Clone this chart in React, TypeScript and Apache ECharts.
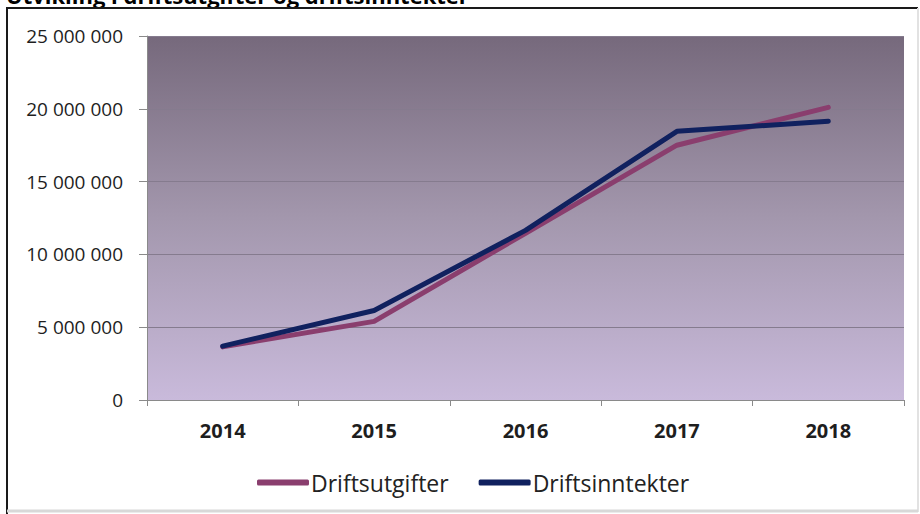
import React, { useEffect, useRef } from "react";
import * as echarts from "echarts";

const titleText = "Utvikling i driftsutgifter og driftsinntekter";
const categories = ["2014", "2015", "2016", "2017", "2018"];
const seriesNames = ["Driftsutgifter", "Driftsinntekter"];
const driftsutgifter = [3650000, 5400000, 11450000, 17500000, 20100000];
const driftsinntekter = [3700000, 6150000, 11650000, 18450000, 19150000];
const yTicks = [0, 5000000, 10000000, 15000000, 20000000, 25000000];

const fmt = (v: number) => String(v).replace(/\B(?=(\d{3})+(?!\d))/g, " ");

export default function App() {
  const ref = useRef<HTMLDivElement>(null);
  useEffect(() => {
    document.body.style.margin = "0";
    const chart = echarts.init(ref.current!, null, { renderer: "svg" });
    chart.setOption({
      animation: false,
      backgroundColor: "#ffffff",
      textStyle: { fontFamily: "Open Sans" },
      graphic: [
        {
          type: "text",
          left: 6,
          top: -16,
          style: {
            text: titleText,
            font: "bold 22px 'Open Sans'",
            fill: "#000000",
          },
        },
        { type: "line", shape: { x1: 7, y1: 8, x2: 7, y2: 514 }, style: { stroke: "#1a1a1a", lineWidth: 2 } },
        { type: "line", shape: { x1: 6, y1: 8, x2: 918, y2: 8 }, style: { stroke: "#1a1a1a", lineWidth: 2 } },
        { type: "line", shape: { x1: 918, y1: 8, x2: 918, y2: 512 }, style: { stroke: "#e2e2e2", lineWidth: 2 } },
        { type: "line", shape: { x1: 7, y1: 511, x2: 918, y2: 511 }, style: { stroke: "#d8d8d8", lineWidth: 3 } },
      ],
      grid: {
        left: 147,
        right: 16,
        top: 36,
        bottom: 114,
        show: true,
        borderWidth: 0,
        backgroundColor: new echarts.graphic.LinearGradient(0, 0, 0, 1, [
          { offset: 0, color: "#76697c" },
          { offset: 0.5, color: "#a397ad" },
          { offset: 1, color: "#c9badb" },
        ]),
      },
      legend: {
        left: 252,
        top: 466,
        itemWidth: 52,
        itemHeight: 6,
        itemGap: 30,
        icon: "roundRect",
        data: seriesNames,
        textStyle: { fontSize: 23, color: "#222222", fontFamily: "Open Sans", padding: [0, 0, 0, -3] },
      },
      xAxis: {
        type: "category",
        data: categories,
        boundaryGap: true,
        axisLine: { lineStyle: { color: "#8a8a8a", width: 1 } },
        axisTick: { show: true, length: 6, lineStyle: { color: "#8a8a8a" } },
        axisLabel: {
          margin: 20,
          fontSize: 20,
          fontWeight: "bold",
          color: "#1e1e1e",
          fontFamily: "Open Sans",
        },
      },
      yAxis: {
        type: "value",
        min: yTicks[0],
        max: yTicks[yTicks.length - 1],
        interval: yTicks[1] - yTicks[0],
        axisLine: { show: true, lineStyle: { color: "#8a8a8a", width: 1 } },
        axisTick: { show: true, length: 8, lineStyle: { color: "#8a8a8a" } },
        splitLine: { show: true, lineStyle: { color: "#857b8e", width: 1 } },
        axisLabel: {
          margin: 24,
          fontSize: 19,
          color: "#1e1e1e",
          fontFamily: "Open Sans",
          formatter: (v: number) => fmt(v),
        },
      },
      series: [
        {
          name: seriesNames[0],
          type: "line",
          data: driftsutgifter,
          showSymbol: false,
          symbol: "none",
          color: "#8a3e6e",
          lineStyle: { width: 5, color: "#8a3e6e", cap: "round", join: "round" },
        },
        {
          name: seriesNames[1],
          type: "line",
          data: driftsinntekter,
          showSymbol: false,
          symbol: "none",
          color: "#10215f",
          lineStyle: { width: 5, color: "#10215f", cap: "round", join: "round" },
        },
      ],
    });
    return () => chart.dispose();
  }, []);
  return (
    <div
      ref={ref}
      style={{ position: "fixed", left: 0, top: 0, width: 920, height: 514 }}
    />
  );
}
